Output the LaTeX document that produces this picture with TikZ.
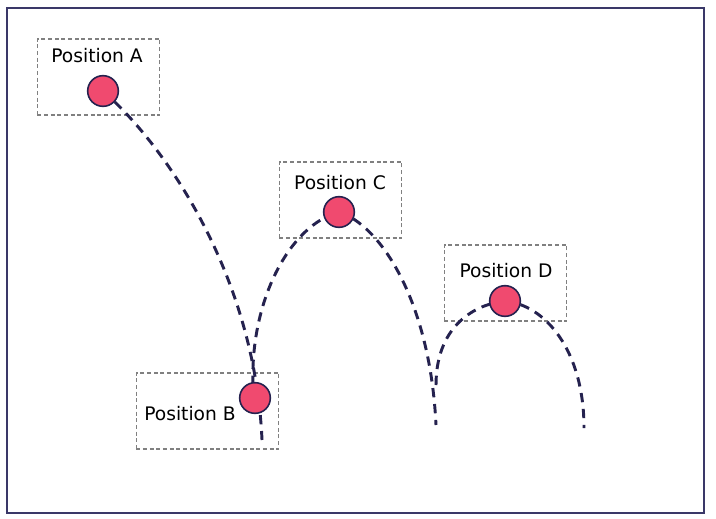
\documentclass[tikz,border=0pt]{standalone}
\usepackage{fontspec}
\setmainfont{DejaVu Sans}
\usetikzlibrary{positioning}
\definecolor{navy}{HTML}{25224F}
\definecolor{ballpink}{HTML}{F04A6F}
\definecolor{framecol}{HTML}{3A3868}
\tikzset{
    posbox/.style={draw=gray, dashed, dash pattern=on 3pt off 2pt, line width=0.8pt, minimum width=92pt, minimum height=57pt, inner sep=0pt},
    poslabel/.style={font=\fontsize{14}{16}\selectfont, inner sep=0pt},
    ball/.style={circle, draw=navy, fill=ballpink, line width=1.2pt, minimum size=23pt, inner sep=0pt},
    path/.style={navy, line width=2.2pt, dash pattern=on 7pt off 5pt}
}
\begin{document}
\begin{tikzpicture}[x=0.75pt,y=-0.75pt]
        \useasboundingbox (0,0) rectangle (716,518);
        \draw[framecol, line width=1.2pt] (7,8) rectangle (704,513);
        % boxes around the positions
        \node[posbox] (boxA) at (98.5,77) {};
        \node[posbox, minimum width=107pt] (boxB) at (207.5,411) {};
        \node[posbox] (boxC) at (340.5,200) {};
        \node[posbox] (boxD) at (505.5,283) {};
        \node[poslabel] (labA) at (97,56) {Position A};
        \node[poslabel] (labB) at (190,414) {Position B};
        \node[poslabel] (labC) at (340,183) {Position C};
        \node[poslabel] (labD) at (506,271) {Position D};
        % the balls
        \coordinate (A) at (103,91);
        \coordinate (B) at (255,398);
        \coordinate (C) at (339,212);
        \coordinate (D) at (505,301);
        \coordinate (Bup) at (253,385);
        \coordinate (endB) at (262,440);
        \coordinate (endC) at (436,425);
        \coordinate (upD) at (436,385);
        \coordinate (endD) at (584,428);
        % trajectory
        \draw[path] (A) .. controls (170,150) and (255,280) .. (endB);
        \draw[path] (Bup) .. controls (250,300) and (290,225) .. (C);
        \draw[path] (C) .. controls (380,225) and (430,300) .. (endC);
        \draw[path] (upD) .. controls (436,330) and (470,305) .. (D);
        \draw[path] (D) .. controls (545,305) and (584,350) .. (endD);
        \node[ball] (ballA) at (A) {};
        \node[ball] (ballB) at (B) {};
        \node[ball] (ballC) at (C) {};
        \node[ball] (ballD) at (D) {};
\end{tikzpicture}
\end{document}
